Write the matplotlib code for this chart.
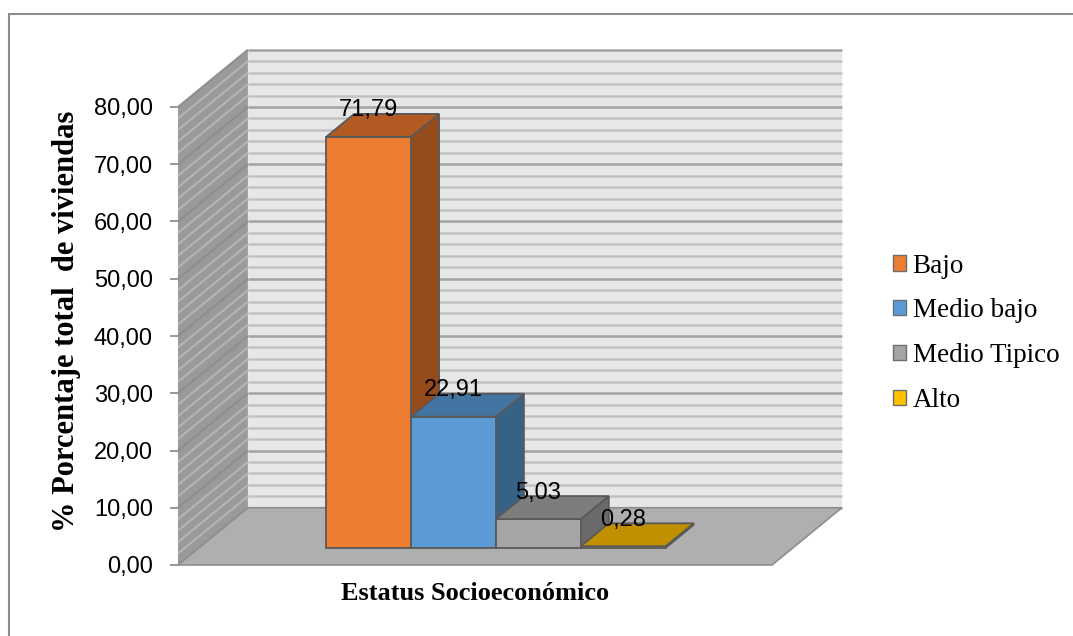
import matplotlib.pyplot as plt
import numpy as np
from matplotlib.font_manager import FontProperties
from matplotlib.patches import Polygon, Rectangle
from matplotlib.ticker import FuncFormatter

categorias = ['Bajo', 'Medio bajo', 'Medio Tipico', 'Alto']
valores = [71.79, 22.91, 5.03, 0.28]
etiquetas = ['71,79', '22,91', '5,03', '0,28']
ticks_y = [0, 10, 20, 30, 40, 50, 60, 70, 80]

col_frente = ['#ED7D31', '#5B9BD5', '#A5A5A5', '#FFC000']
col_arriba = ['#B35A22', '#4474A1', '#7D7D7D', '#C09000']
col_lado = ['#954B1C', '#386187', '#6A6A6A', '#9E7700']

# geometria de la proyeccion (unidades de datos)
DX = 70 / 85.0      # desplazamiento horizontal del fondo
DY = 10.0           # desplazamiento vertical del fondo
ANCHO = 7.0         # ancho del piso
F0, F1 = 0.3, 0.7   # profundidad de las barras

SANS = 'Liberation Sans'


def proy(x, y, d):
    return (x + d * DX, y + d * DY)


def poligono(ax, pts, fc, ec='none', lw=0.0, z=1):
    p = Polygon(pts, closed=True, facecolor=fc, edgecolor=ec, linewidth=lw,
                zorder=z, clip_on=False, joinstyle='miter')
    ax.add_patch(p)
    return p


fig = plt.figure(figsize=(10.73, 6.36), dpi=100)
W, H = 1073.0, 636.0
ax = fig.add_axes([178 / W, 71 / H, 594 / W, 458 / H])
ax.set_xlim(0, ANCHO)
ax.set_ylim(0, 80)
ax.patch.set_visible(False)
for s in ax.spines.values():
    s.set_visible(False)

# marco exterior
fig.add_artist(Rectangle((9 / W, -0.1), 1.2, 1 - 14 / H + 0.1,
                         transform=fig.transFigure, fill=False,
                         edgecolor='#8C8C8C', linewidth=1.5))

ymax = ticks_y[-1]
# pared del fondo
poligono(ax, [proy(0, 0, 1), proy(ANCHO, 0, 1), proy(ANCHO, ymax, 1), proy(0, ymax, 1)],
         '#E7E7E7', z=1)
# pared lateral
poligono(ax, [proy(0, 0, 0), proy(0, 0, 1), proy(0, ymax, 1), proy(0, ymax, 0)],
         '#9A9A9A', z=1)

for v in np.arange(0, ymax + 1, 2):
    mayor = v % 10 == 0
    x0, y0 = proy(0, v, 1)
    x1, y1 = proy(ANCHO, v, 1)
    ax.plot([x0, x1], [y0, y1], color='#A3A3A3' if mayor else '#C2C2C2',
            lw=1.8, zorder=2, clip_on=False, solid_capstyle='butt')
    a, b = proy(0, v, 0)
    ax.plot([a, x0], [b, y0], color='#8E8E8E' if mayor else '#B5B5B5',
            lw=1.5, zorder=2, clip_on=False, solid_capstyle='butt')

# piso
poligono(ax, [proy(0, 0, 0), proy(ANCHO, 0, 0), proy(ANCHO, 0, 1), proy(0, 0, 1)],
         '#AFAFAF', ec='#8E8E8E', lw=1.2, z=3)

# barras
for i, v in enumerate(valores):
    x0 = 1.5 + i
    x1 = x0 + 1
    ec = '#595959'
    poligono(ax, [proy(x1, 0, F0), proy(x1, 0, F1), proy(x1, v, F1), proy(x1, v, F0)],
             col_lado[i], ec=ec, lw=1.3, z=4 + i)
    poligono(ax, [proy(x0, 0, F0), proy(x1, 0, F0), proy(x1, v, F0), proy(x0, v, F0)],
             col_frente[i], ec=ec, lw=1.3, z=4 + i)
    poligono(ax, [proy(x0, v, F0), proy(x1, v, F0), proy(x1, v, F1), proy(x0, v, F1)],
             col_arriba[i], ec=ec, lw=1.3, z=4 + i)
    tx, _ = proy(x0 + 0.5, v, F0)
    ax.text(tx, v + 7.6, etiquetas[i], ha='center', va='center',
            fontsize=17, family=SANS, color='black', zorder=10)

# eje y
ax.set_xticks([])
ax.set_yticks(ticks_y)
ax.yaxis.set_major_formatter(FuncFormatter(lambda v, p: f'{v:.2f}'.replace('.', ',')))
ax.tick_params(axis='y', direction='out', length=6, width=1.2, color='#868686',
               pad=12, labelsize=17)
for t in ax.get_yticklabels():
    t.set_family(SANS)

ax.set_ylabel('% Porcentaje total  de viviendas', family='Liberation Serif',
              fontweight='bold', fontsize=22)
ax.yaxis.set_label_coords(-0.163, 0.531)
ax.set_xlabel('Estatus Socioeconómico', family='Liberation Serif',
              fontweight='bold', fontsize=19, labelpad=12)

# leyenda
handles = [Rectangle((0, 0), 1, 1, facecolor=c, edgecolor='#6E6E6E', linewidth=1.0)
           for c in col_frente]
fp = FontProperties(family='Liberation Serif', size=19.5)
ax.legend(handles, categorias, loc='center left', bbox_to_anchor=(715 / 594, 0.506),
          frameon=False, prop=fp,
          handlelength=0.48, handleheight=0.48, handletextpad=0.25,
          labelspacing=0.73, borderpad=0, borderaxespad=0)

fig.savefig('out.png', dpi=100)
